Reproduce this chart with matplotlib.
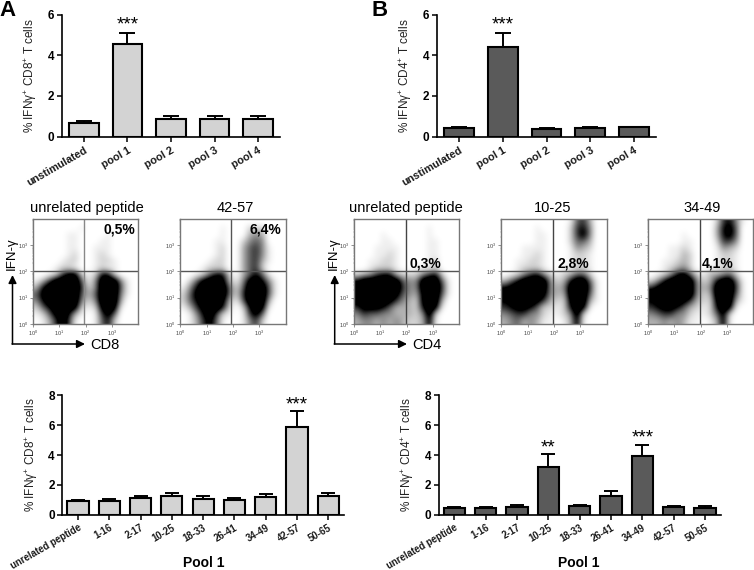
import numpy as np
import matplotlib
matplotlib.use('Agg')
import matplotlib.pyplot as plt
from matplotlib.colors import PowerNorm

plt.rcParams['font.family'] = ['Liberation Sans', 'DejaVu Sans']
plt.rcParams['mathtext.default'] = 'regular'

W, H = 754, 570

# bar data, means and top of the error bar
pools = ['unstimulated', 'pool 1', 'pool 2', 'pool 3', 'pool 4']
cd8_pool_mean = [0.68, 4.55, 0.88, 0.85, 0.85]
cd8_pool_top = [0.77, 5.08, 1.02, 1.03, 1.00]
cd4_pool_mean = [0.42, 4.42, 0.39, 0.42, 0.45]
cd4_pool_top = [0.48, 5.08, 0.43, 0.48, 0.49]

peptides = ['unrelated peptide', '1-16', '2-17', '10-25', '18-33', '26-41', '34-49', '42-57', '50-65']
cd8_pep_mean = [0.93, 0.93, 1.12, 1.22, 1.07, 1.00, 1.20, 5.90, 1.25]
cd8_pep_top = [1.00, 1.03, 1.25, 1.47, 1.25, 1.13, 1.40, 6.92, 1.47]
cd4_pep_mean = [0.47, 0.43, 0.53, 3.22, 0.60, 1.23, 3.90, 0.53, 0.48]
cd4_pep_top = [0.52, 0.49, 0.62, 4.07, 0.67, 1.58, 4.65, 0.58, 0.56]

# flow plots: how dark each part of the plot looks, 0-9, top row first
flow_cd8_unrel = ["0000000000000000", "0000000100000000", "0000011000010000", "0000011000110000",
                  "0000011001110000", "0000012001210000", "0000122001221000", "0001221001211000",
                  "0012688212772000", "1369999514999410", "3799999624999510", "5899999535999410",
                  "4799999424999300", "2579998212898100", "1258973101685000", "0136961001572000"]
flow_cd8_4257 = ["0000000000000000", "0000001000222000", "0000001000343000", "0000011002454000",
                 "0000012003564100", "0000012003564100", "0000122003563100", "0001222003562000",
                 "0012577203575100", "0258998314897410", "1479999525999510", "2589999526999510",
                 "2579998315999300", "1368997202798100", "0147962101685000", "0136851001462000"]
flow_cd4_unrel = ["0000000000000000", "0000000000010000", "0000100000010000", "0000110000011000",
                  "0001111000011000", "0001121000011000", "0011221000012000", "0012221001112000",
                  "2346773222467200", "7999999544999510", "9999999644999610", "9999998543899510",
                  "8999986432899300", "6888753332798100", "4655443332492000", "3443434322381000"]
flow_cd4_1025 = ["0000000000156300", "0000010000267400", "0000011000268400", "0000011000255300",
                 "0001111000143200", "0001121000122100", "0011221000122100", "0012221001122100",
                 "0124674212355200", "3579999423799510", "7899999434999610", "9999998433999510",
                 "7899986322899310", "6788752212798100", "4566442112492000", "3453431101381000"]
flow_cd4_3449 = ["0000000000267410", "0000000000378500", "0000010000378500", "0000011000266400",
                 "0001121000143200", "0001132000122100", "0011232000122100", "0012342001122100",
                 "0124785213345200", "2479999423799510", "6899999434999610", "9999999423999510",
                 "7899986322899310", "6788753212798100", "4566442112582000", "3343431101381000"]

fig = plt.figure(figsize=(W / 100, H / 100), dpi=100)


def px_axes(x0, y0, x1, y1):
    return fig.add_axes([x0 / W, 1 - y1 / H, (x1 - x0) / W, (y1 - y0) / H])


def bar_panel(box, labels, mean, top, color, ymax, ystep, ylabel, xlab, stars, lsize, lpad):
    ax = px_axes(*box)
    x = np.arange(len(labels))
    err = np.array(top) - np.array(mean)
    capsize = 5.8 if len(labels) == 5 else 5
    ax.bar(x, mean, width=0.68, color=color, edgecolor='black', linewidth=1.5, zorder=3)
    ax.errorbar(x, mean, yerr=[np.zeros(len(x)), err], fmt='none', ecolor='black',
                elinewidth=1.4, capsize=capsize, capthick=1.4, zorder=2)
    ax.set_xlim(-0.5, len(labels) - 0.5)
    ax.set_ylim(0, ymax)
    ax.set_yticks(np.arange(0, ymax + 1, ystep))
    ax.set_xticks(x)
    ax.set_xticklabels(labels, rotation=30, ha='right', rotation_mode='anchor',
                       fontsize=lsize, fontweight='bold', color='#1a1a1a')
    ax.tick_params(axis='x', width=1.1, length=3.5, pad=lpad)
    ax.tick_params(axis='y', width=1.1, length=3.5, pad=2, labelsize=8.5)
    for t in ax.get_yticklabels():
        t.set_fontweight('bold')
    ax.set_ylabel(ylabel, fontsize=8.5, color='#222222')
    ax.yaxis.set_label_coords((xlab - box[0]) / (box[2] - box[0]), 0.5)
    for s in ['top', 'right']:
        ax.spines[s].set_visible(False)
    for s in ['left', 'bottom']:
        ax.spines[s].set_linewidth(1.2)
    for i, txt, ys in stars:
        ax.text(i, ys, txt, ha='center', va='center', fontsize=13.5)
    ax.patch.set_alpha(0)
    return ax


def flow_panel(box, rows, xgate, ygate, gate_color):
    ax = px_axes(*box)
    grid = np.array([[int(c) for c in r] for r in rows], dtype=float)
    ax.imshow(grid, extent=(0, 4, 0, 4), cmap='gray_r', norm=PowerNorm(1.4, vmin=0, vmax=7),
              interpolation='bicubic', aspect='auto')
    ax.axvline(xgate, color=gate_color, lw=1)
    ax.axhline(ygate, color='#555555', lw=1)
    ax.set_xlim(0, 4)
    ax.set_ylim(0, 4)
    ticks = [0, 1, 2, 3]
    ticklabels = ['$10^{%d}$' % t for t in ticks]
    minor = [d + np.log10(m) for d in range(4) for m in range(2, 10)]
    ax.set_xticks(ticks)
    ax.set_yticks(ticks)
    ax.set_xticklabels(ticklabels, fontsize=4, color='#444444')
    ax.set_yticklabels(ticklabels, fontsize=4, color='#444444')
    ax.set_xticks(minor, minor=True)
    ax.set_yticks(minor, minor=True)
    ax.tick_params(which='major', length=2, width=0.5, pad=1.5, color='#666666')
    ax.tick_params(which='minor', length=1, width=0.3, color='#888888')
    for s in ax.spines.values():
        s.set_color('#777777')
        s.set_linewidth(1)
    return ax


# top row of bars
ifn_cd8 = '% IFNγ$^{+}$ CD8$^{+}$ T cells'
ifn_cd4 = '% IFNγ$^{+}$ CD4$^{+}$ T cells'
bar_panel((62, 14.5, 280, 136.5), pools, cd8_pool_mean, cd8_pool_top, '#d3d3d3', 6, 2, ifn_cd8, 39,
          [(1, '***', 5.48)], 7.8, 3)
bar_panel((437, 14.5, 656, 136.5), pools, cd4_pool_mean, cd4_pool_top, '#5a5a5a', 6, 2, ifn_cd4, 414,
          [(1, '***', 5.48)], 7.8, 3)

# flow plots
flow_panel((33, 218.7, 138, 324), flow_cd8_unrel, 1.93, 2.0, '#888888')
flow_panel((180.3, 218.7, 285.7, 324), flow_cd8_4257, 1.93, 2.0, '#555555')
flow_panel((354, 218.7, 459, 324), flow_cd4_unrel, 1.98, 2.0, '#444444')
flow_panel((501.3, 218.7, 606.7, 324), flow_cd4_1025, 1.98, 2.0, '#444444')
flow_panel((648.3, 218.7, 753, 324), flow_cd4_3449, 1.98, 2.0, '#444444')

# bottom row of bars
bar_panel((62.3, 395.3, 344, 514.7), peptides, cd8_pep_mean, cd8_pep_top, '#d3d3d3', 8, 2, ifn_cd8, 40,
          [(7, '***', 7.35)], 6.9, 2)
bar_panel((438.7, 395.3, 720.7, 514.7), peptides, cd4_pep_mean, cd4_pep_top, '#5a5a5a', 8, 2, ifn_cd4, 415.7,
          [(3, '**', 4.5), (6, '***', 5.15)], 6.9, 2)

# overlay in pixel coordinates for the loose text and the arrows
top = fig.add_axes([0, 0, 1, 1])
top.set_xlim(0, W)
top.set_ylim(H, 0)
top.axis('off')

top.text(8, 10, 'A', fontsize=16, fontweight='bold', ha='center', va='center')
top.text(380, 10, 'B', fontsize=16, fontweight='bold', ha='center', va='center')

for x, s in [(87, 'unrelated peptide'), (235, '42-57'), (405.7, 'unrelated peptide'),
             (552.7, '10-25'), (701.7, '34-49')]:
    top.text(x, 208, s, fontsize=10.5, ha='center', va='center')

for x, y, s in [(119, 230, '0,5%'), (265, 230, '6,4%'), (425, 264, '0,3%'),
                (573, 264, '2,8%'), (718, 263, '4,1%')]:
    top.text(x, y, s, fontsize=10, fontweight='bold', ha='center', va='center')

for x0, x1, y0, y1, name in [(12.5, 85, 344, 275, 'CD8'), (334.7, 407, 344, 275, 'CD4')]:
    top.annotate('', xy=(x0, y1), xytext=(x0, y0),
                 arrowprops=dict(arrowstyle='-|>', color='black', lw=1.1, shrinkA=0, shrinkB=0, mutation_scale=12))
    top.annotate('', xy=(x1, y0), xytext=(x0 - 0.5, y0),
                 arrowprops=dict(arrowstyle='-|>', color='black', lw=1.1, shrinkA=0, shrinkB=0, mutation_scale=12))
    top.text(x1 + 5, y0 + 1, name, fontsize=10.5, ha='left', va='center')
    top.text(x0 - 1, 254, 'IFN-γ', fontsize=9.5, rotation=90, ha='center', va='center')

top.text(204, 562.7, 'Pool 1', fontsize=10, fontweight='bold', ha='center', va='center')
top.text(579, 562.7, 'Pool 1', fontsize=10, fontweight='bold', ha='center', va='center')

fig.savefig('out.png', dpi=100)
